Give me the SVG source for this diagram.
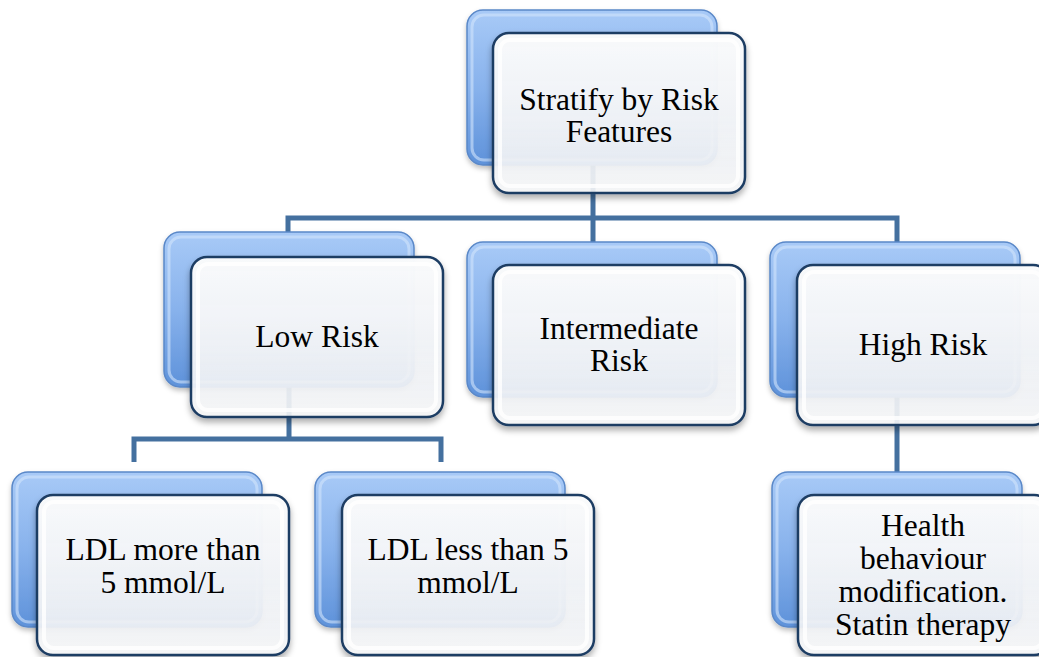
<svg xmlns="http://www.w3.org/2000/svg" width="1039" height="657" viewBox="0 0 1039 657">
<defs>
<linearGradient id="gBlue" x1="0" y1="0" x2="0" y2="1">
<stop offset="0" stop-color="#a8caf7"/>
<stop offset="0.5" stop-color="#88b2ec"/>
<stop offset="1" stop-color="#5e92da"/>
</linearGradient>
<linearGradient id="gWhite" x1="0" y1="0" x2="0" y2="1">
<stop offset="0" stop-color="#fafbfc" stop-opacity="0.98"/>
<stop offset="0.55" stop-color="#f1f3f7" stop-opacity="0.97"/>
<stop offset="0.8" stop-color="#f3f5f8" stop-opacity="0.9"/>
<stop offset="1" stop-color="#f8f9fa" stop-opacity="0.88"/>
</linearGradient>
<filter id="sh" x="-10%" y="-10%" width="125%" height="130%">
<feDropShadow dx="0" dy="4" stdDeviation="3" flood-color="#000" flood-opacity="0.35"/>
</filter>
<filter id="shb" x="-10%" y="-10%" width="125%" height="130%">
<feDropShadow dx="0" dy="3" stdDeviation="2.5" flood-color="#000" flood-opacity="0.25"/>
</filter>
</defs>
<style>
.blue{fill:url(#gBlue);stroke:#5a88c8;stroke-width:1.5;filter:url(#shb)}
.blueIn{fill:none;stroke:#d2e4fb;stroke-width:3;opacity:0.6}
.white{fill:url(#gWhite);stroke:#1f3d63;stroke-width:2.5;filter:url(#sh)}
.whiteIn{fill:none;stroke:#ffffff;stroke-width:4;opacity:0.8}
.conn{fill:none;stroke:#44709f;stroke-width:5;stroke-linejoin:miter}
.lbl{font-size:31.5px;fill:#000;text-anchor:middle}
</style>
<g id="connectors">
<path class="conn" d="M593,100 V218 M288,232 V218 H897 V242 M593,218 V242"/>
<path class="conn" d="M289,330 V439 M134,462 V439 H441 V462"/>
<path class="conn" d="M897,340 V472"/>
</g>
<g id="node-stratify" font-family="Liberation Serif, Times New Roman, DejaVu Serif, serif">
<rect class="blue" x="467" y="10" width="250" height="155" rx="16"/>
<rect class="blueIn" x="472" y="15" width="240" height="145" rx="12"/>
<rect class="white" x="493" y="33" width="252" height="160" rx="16"/>
<rect class="whiteIn" x="500" y="40" width="238" height="146" rx="10"/>
<text class="lbl" x="619" y="110">Stratify by Risk</text>
<text class="lbl" x="619" y="142">Features</text>
</g>
<g id="node-low" font-family="Liberation Serif, Times New Roman, DejaVu Serif, serif">
<rect class="blue" x="164" y="232" width="250" height="155" rx="16"/>
<rect class="blueIn" x="169" y="237" width="240" height="145" rx="12"/>
<rect class="white" x="191" y="257" width="252" height="160" rx="16"/>
<rect class="whiteIn" x="198" y="264" width="238" height="146" rx="10"/>
<text class="lbl" x="317" y="347">Low Risk</text>
</g>
<g id="node-intermediate" font-family="Liberation Serif, Times New Roman, DejaVu Serif, serif">
<rect class="blue" x="467" y="242" width="250" height="155" rx="16"/>
<rect class="blueIn" x="472" y="247" width="240" height="145" rx="12"/>
<rect class="white" x="493" y="265" width="252" height="160" rx="16"/>
<rect class="whiteIn" x="500" y="272" width="238" height="146" rx="10"/>
<text class="lbl" x="619" y="339">Intermediate</text>
<text class="lbl" x="619" y="371">Risk</text>
</g>
<g id="node-high" font-family="Liberation Serif, Times New Roman, DejaVu Serif, serif">
<rect class="blue" x="770" y="242" width="250" height="155" rx="16"/>
<rect class="blueIn" x="775" y="247" width="240" height="145" rx="12"/>
<rect class="white" x="797" y="265" width="252" height="160" rx="16"/>
<rect class="whiteIn" x="804" y="272" width="238" height="146" rx="10"/>
<text class="lbl" x="923" y="355">High Risk</text>
</g>
<g id="node-ldl-more" font-family="Liberation Serif, Times New Roman, DejaVu Serif, serif">
<rect class="blue" x="12" y="472" width="250" height="155" rx="16"/>
<rect class="blueIn" x="17" y="477" width="240" height="145" rx="12"/>
<rect class="white" x="37" y="495" width="252" height="160" rx="16"/>
<rect class="whiteIn" x="44" y="502" width="238" height="146" rx="10"/>
<text class="lbl" x="163" y="560">LDL more than</text>
<text class="lbl" x="163" y="593">5 mmol/L</text>
</g>
<g id="node-ldl-less" font-family="Liberation Serif, Times New Roman, DejaVu Serif, serif">
<rect class="blue" x="315" y="472" width="250" height="155" rx="16"/>
<rect class="blueIn" x="320" y="477" width="240" height="145" rx="12"/>
<rect class="white" x="342" y="495" width="252" height="160" rx="16"/>
<rect class="whiteIn" x="349" y="502" width="238" height="146" rx="10"/>
<text class="lbl" x="468" y="560">LDL less than 5</text>
<text class="lbl" x="468" y="593">mmol/L</text>
</g>
<g id="node-health" font-family="Liberation Serif, Times New Roman, DejaVu Serif, serif">
<rect class="blue" x="772" y="472" width="250" height="155" rx="16"/>
<rect class="blueIn" x="777" y="477" width="240" height="145" rx="12"/>
<rect class="white" x="798" y="495" width="252" height="160" rx="16"/>
<rect class="whiteIn" x="805" y="502" width="238" height="146" rx="10"/>
<text class="lbl" x="923" y="536">Health</text>
<text class="lbl" x="923" y="569">behaviour</text>
<text class="lbl" x="923" y="602">modification.</text>
<text class="lbl" x="923" y="635">Statin therapy</text>
</g>
</svg>
